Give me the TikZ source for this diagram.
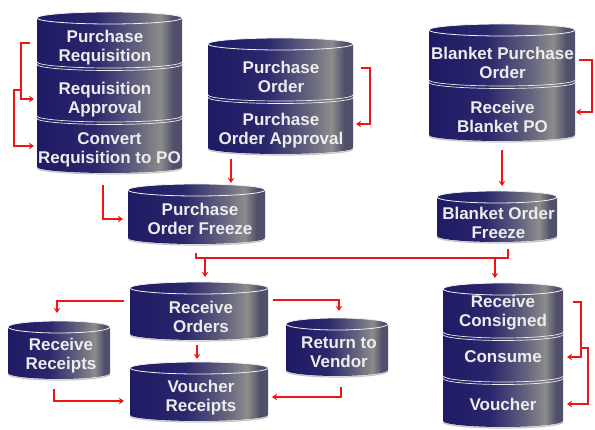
\documentclass[tikz,border=0pt]{standalone}
\usepackage{fontspec}
\setmainfont{Liberation Sans}
\usetikzlibrary{arrows.meta}
\definecolor{c0}{HTML}{1E1A64}
\definecolor{c1}{HTML}{2A276C}
\definecolor{c2}{HTML}{66657F}
\definecolor{c3}{HTML}{8C8C8C}
\definecolor{c4}{HTML}{50506C}
\definecolor{txt}{HTML}{ECECEC}
\definecolor{arrred}{HTML}{F01414}
\pgfdeclarehorizontalshading{cylshade}{100bp}{color(0bp)=(c0); color(25bp)=(c0); color(45bp)=(c1); color(60bp)=(c2); color(67.5bp)=(c3); color(72bp)=(c4); color(75bp)=(c4); color(100bp)=(c4)}
\newcommand\cylbox[4]{%
  \pgfmathsetmacro\crx{(#2-#1)/2}%
  \pgfmathsetmacro\cmx{(#1+#2)/2}%
  \draw[gray!45,line width=1.2pt] (#1,#4+1) arc[start angle=180,end angle=360,x radius=\crx pt,y radius=6pt];
  \shade[shading=cylshade] (#1,#3) -- (#1,#4) arc[start angle=180,end angle=360,x radius=\crx pt,y radius=6pt] -- (#2,#3) -- cycle;
  \shadedraw[shading=cylshade,draw=white!88!gray,line width=0.8pt] (\cmx,#3) ellipse[x radius=\crx pt,y radius=6pt];
}
\newcommand\cylsep[3]{%
  \pgfmathsetmacro\crx{(#2-#1)/2}%
  \draw[white!85!gray,line width=0.7pt] (#1,#3) arc[start angle=180,end angle=360,x radius=\crx pt,y radius=6pt];
  \draw[white!85!gray,line width=0.7pt] (#1,#3+2.5) arc[start angle=180,end angle=360,x radius=\crx pt,y radius=6pt];
}
\tikzset{
  lab/.style={text=txt,font=\bfseries\fontsize{17}{19}\selectfont,align=center,inner sep=0pt},
  ln/.style={draw=arrred,line width=1.3pt},
  arr/.style={ln,-{Stealth[length=5pt,width=6.5pt]}}
}
\begin{document}
\begin{tikzpicture}[x=1pt,y=-1pt]
\useasboundingbox (0,0) rectangle (595,430);
% cylinders
\cylbox{37}{182}{18}{167}\cylsep{37}{182}{62}\cylsep{37}{182}{116}
\cylbox{208}{353}{44}{148}\cylsep{208}{353}{95}
\cylbox{429}{575}{30}{135}\cylsep{429}{575}{80}
\cylbox{437}{557}{197}{236}
\cylbox{128}{265}{190}{238}
\cylbox{130}{268}{288}{334}
\cylbox{8}{110}{327}{373}
\cylbox{130}{268}{368}{415}
\cylbox{286}{388}{324}{370}
\cylbox{443}{563}{289}{421}\cylsep{443}{563}{332}\cylsep{443}{563}{376}
% labels
\node[lab] (pr) at (105,47.5) {Purchase\\Requisition};
\node[lab] (ra) at (105,99.5) {Requisition\\Approval};
\node[lab] (cr) at (109.5,150) {Convert\\Requisition to PO};
\node[lab] (po) at (281,76.5) {Purchase\\Order};
\node[lab] (poa) at (281,130.5) {Purchase\\Order Approval};
\node[lab] (bpo) at (502.5,62.5) {Blanket Purchase\\Order};
\node[lab] (rbpo) at (502.5,117) {Receive\\Blanket PO};
\node[lab] (bof) at (498.5,222.5) {Blanket Order\\Freeze};
\node[lab] (pof) at (200,219) {Purchase\\Order Freeze};
\node[lab] (ro) at (201,316.5) {Receive\\Orders};
\node[lab] (rr) at (61,356) {Receive\\Receipts};
\node[lab] (vr) at (201,397.5) {Voucher\\Receipts};
\node[lab] (rv) at (339,352.5) {Return to\\Vendor};
\node[lab] (rc) at (503,312.5) {Receive\\Consigned};
\node[lab] (cs) at (503,357) {Consume};
\node[lab] (vo) at (503,404) {Voucher};
% connector points
\coordinate (a1) at (30,43);   \coordinate (a2) at (34,99);
\coordinate (b1) at (21,90);   \coordinate (b2) at (34,146);
\coordinate (c1) at (361,68);  \coordinate (c2) at (356,124);
\coordinate (d1) at (103,185); \coordinate (d2) at (123,219);
\coordinate (e1) at (231,159); \coordinate (e2) at (231,183);
\coordinate (f1) at (579,60);  \coordinate (f2) at (576,112);
\coordinate (g1) at (502,150); \coordinate (g2) at (502,186);
\coordinate (h1) at (196,253); \coordinate (h2) at (508,249);
\coordinate (h3) at (205,258); \coordinate (h4) at (205,277);
\coordinate (h5) at (495,258); \coordinate (h6) at (495,278);
\coordinate (i1) at (124,301); \coordinate (i2) at (57,313);
\coordinate (j1) at (197,345); \coordinate (j2) at (197,359);
\coordinate (k1) at (273,300); \coordinate (k2) at (339,311);
\coordinate (l1) at (54,389);  \coordinate (l2) at (124,401);
\coordinate (m1) at (341,387); \coordinate (m2) at (272,397);
\coordinate (n1) at (573,302); \coordinate (n2) at (567,357);
\coordinate (o1) at (581,348); \coordinate (o2) at (567,404);
% connectors
\draw[arr] (a1) -- (21,43) |- (a2);
\draw[arr] (b1) -- (14,90) |- (b2);
\draw[arr] (c1) -- (370,68) |- (c2);
\draw[arr] (d1) |- (d2);
\draw[arr] (e1) -- (e2);
\draw[arr] (f1) -- (592,60) |- (f2);
\draw[arr] (g1) -- (g2);
\draw[ln] (h1) |- (508,258) -- (h2);
\draw[arr] (h3) -- (h4);
\draw[arr] (h5) -- (h6);
\draw[arr] (i1) -| (i2);
\draw[arr] (j1) -- (j2);
\draw[arr] (k1) -| (k2);
\draw[arr] (l1) |- (l2);
\draw[arr] (m1) |- (m2);
\draw[arr] (n1) -- (581,302) |- (n2);
\draw[arr] (o1) -- (588,348) |- (o2);
\end{tikzpicture}
\end{document}
